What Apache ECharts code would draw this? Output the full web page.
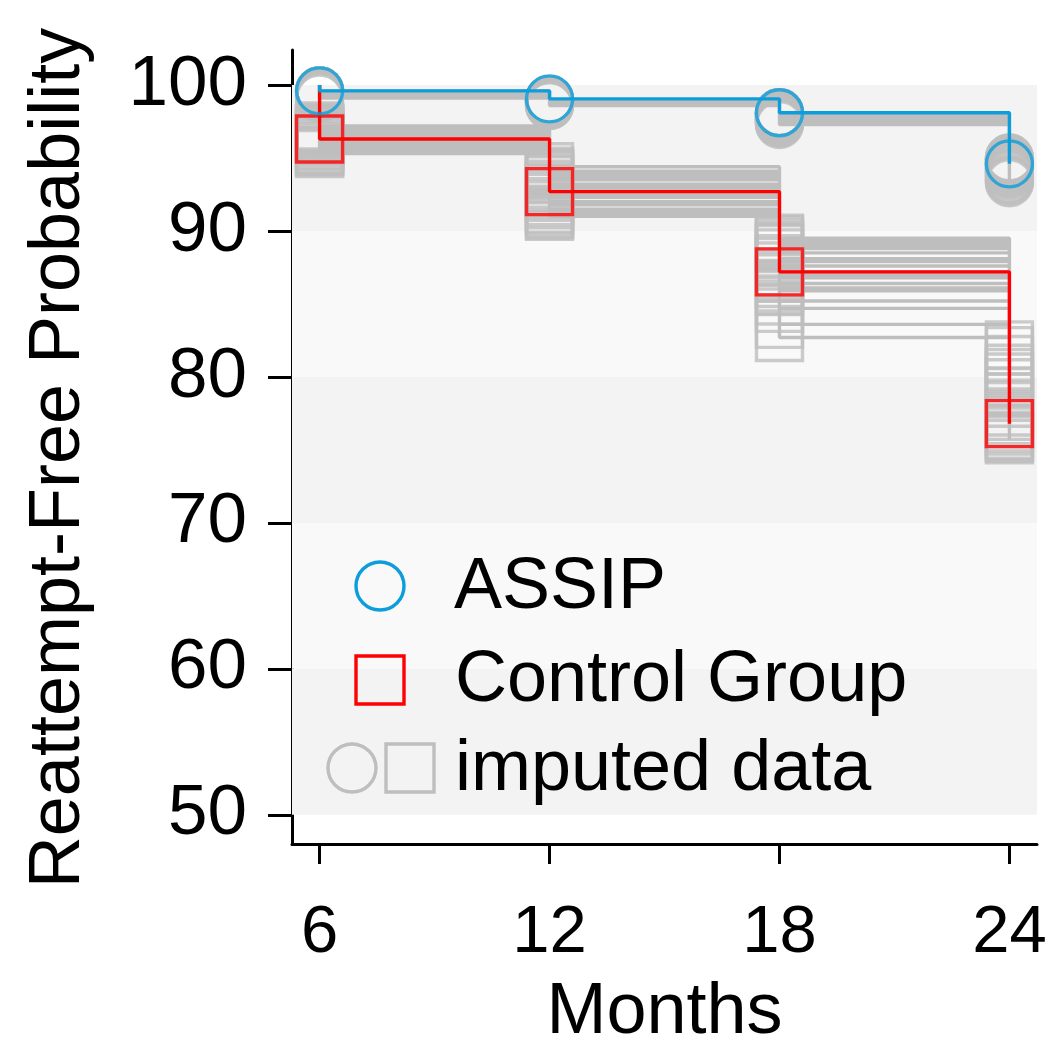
<!DOCTYPE html>
<html><head><meta charset="utf-8">
<script src="https://cdn.jsdelivr.net/npm/echarts@6/dist/echarts.min.js"></script>
<style>html,body{margin:0;padding:0;background:#fff}#c{width:1049px;height:1042px}</style>
</head><body><div id="c"></div>
<script>
// ---------- data ----------
const months = [6, 12, 18, 24];
const xTicks = [6, 12, 18, 24];
const yTicks = [50, 60, 70, 80, 90, 100];
const startValue = 100;
const assip = [99.6, 99.05, 98.1, 94.6];
const control = [96.3, 92.7, 87.2, 76.8];
// imputed datasets (values at 6, 12, 18, 24 months)
const assipImputed = [
  [99.6, 99.0, 98.1, 94.6], [99.6, 98.9, 97.9, 94.2], [99.5, 99.0, 98.0, 95.0], [99.6, 98.8, 97.6, 93.6],
  [99.4, 99.0, 98.1, 94.8], [99.6, 98.9, 97.8, 94.4], [99.3, 98.7, 97.4, 93.3], [99.6, 99.0, 98.0, 94.9],
  [99.5, 98.9, 97.7, 94.0], [99.6, 99.0, 98.1, 94.6], [99.2, 98.6, 97.3, 93.5], [99.6, 98.9, 97.9, 94.3],
  [99.5, 99.0, 98.0, 95.0], [99.4, 98.8, 97.5, 93.8], [99.6, 99.0, 98.1, 94.7], [99.1, 98.6, 97.4, 93.4],
  [99.6, 98.9, 97.8, 94.1], [99.5, 99.0, 98.0, 94.8], [99.6, 98.8, 97.6, 93.9], [99.3, 98.7, 97.5, 94.5]
];
const controlImputed = [
  [96.3, 92.7, 87.2, 76.8], [97.2, 94.4, 89.5, 81.2], [95.5, 91.2, 85.9, 75.9], [96.8, 93.8, 88.8, 80.0],
  [95.3, 91.0, 82.7, 75.7], [96.6, 93.0, 87.9, 78.2], [97.0, 94.1, 89.2, 82.2], [95.8, 91.8, 86.4, 77.0],
  [96.4, 92.9, 87.6, 79.0], [95.4, 91.5, 84.7, 76.0], [96.9, 93.5, 88.5, 80.6], [96.1, 92.3, 86.8, 77.6],
  [95.6, 91.4, 85.2, 76.3], [97.1, 94.0, 89.4, 81.8], [96.5, 93.2, 88.1, 78.6], [95.9, 92.0, 86.1, 76.5],
  [96.7, 93.6, 88.9, 79.6], [95.5, 91.1, 83.6, 75.8], [96.2, 92.5, 87.0, 77.3], [97.0, 93.9, 89.0, 80.3]
];
const bandsDark = [[50, 60], [70, 80], [90, 100]];
const bandsLight = [[60, 70], [80, 90]];

// ---------- styling ----------
const FONT = '"Liberation Sans", Arial, Helvetica, sans-serif';
const BLUE = '#0d9ddb';
const RED = '#ff0000';
const GREY = '#bebebe';
const SYM = 46;
const LW = 3.4;

function stepPath(vals) {
  const pts = [[months[0], startValue]];
  vals.forEach((v, i) => {
    pts.push([months[i], v]);
    if (i < vals.length - 1) pts.push([months[i + 1], v]);
  });
  return pts;
}
function joinPaths(list) {
  const out = [];
  list.forEach((vals, k) => {
    if (k > 0) out.push([null, null]);
    stepPath(vals).forEach(p => out.push(p));
  });
  return out;
}
function points(list) {
  const out = [];
  list.forEach(vals => vals.forEach((v, i) => out.push([months[i], v])));
  return out;
}
const hollow = (c) => ({ color: 'rgba(0,0,0,0)', borderColor: c, borderWidth: LW });

const chart = echarts.init(document.getElementById('c'), null, { renderer: 'canvas' });
chart.setOption({
  animation: false,
  backgroundColor: '#ffffff',
  grid: { left: 292, right: 12, top: 50, bottom: 198, containLabel: false, outerBoundsMode: 'none' },
  xAxis: {
    type: 'value', min: 5.28, max: 24.72,
    axisLine: { show: true, onZero: false, lineStyle: { color: '#000', width: 3 } },
    axisTick: { show: true, customValues: xTicks, length: 20, lineStyle: { color: '#000', width: 3 } },
    axisLabel: { customValues: xTicks, fontSize: 67, margin: 56, color: '#000', fontFamily: FONT },
    splitLine: { show: false },
    name: 'Months', nameLocation: 'middle', nameGap: 133,
    nameTextStyle: { fontSize: 72, color: '#000', fontFamily: FONT }
  },
  yAxis: {
    type: 'value', min: 48, max: 102.4,
    axisLine: { show: true, onZero: false, lineStyle: { color: '#000', width: 3 } },
    axisTick: { show: true, customValues: yTicks, length: 24, lineStyle: { color: '#000', width: 3 } },
    axisLabel: { customValues: yTicks, fontSize: 71, margin: 45, color: '#000', fontFamily: FONT },
    splitLine: { show: false },
    name: 'Reattempt-Free Probability', nameLocation: 'middle', nameGap: 197, nameRotate: 90,
    nameTextStyle: { fontSize: 72, color: '#000', fontFamily: FONT, padding: [0, 22, 0, 0] }
  },
  series: [
    {
      type: 'line', data: [], z: 0, silent: true,
      markArea: {
        silent: true,
        data: bandsDark.map(b => [{ yAxis: b[0], itemStyle: { color: '#f3f3f3' } }, { yAxis: b[1] }])
          .concat(bandsLight.map(b => [{ yAxis: b[0], itemStyle: { color: '#f9f9f9' } }, { yAxis: b[1] }]))
      }
    },
    { name: 'ASSIP imputed', type: 'line', data: joinPaths(assipImputed), connectNulls: false, symbol: 'none',
      lineStyle: { color: GREY, width: LW }, z: 2, silent: true },
    { name: 'Control imputed', type: 'line', data: joinPaths(controlImputed), connectNulls: false, symbol: 'none',
      lineStyle: { color: GREY, width: LW }, z: 2, silent: true },
    { type: 'scatter', data: points(assipImputed), symbol: 'circle', symbolSize: SYM, itemStyle: hollow(GREY), z: 3, silent: true },
    { type: 'scatter', data: points(controlImputed), symbol: 'rect', symbolSize: SYM, itemStyle: hollow(GREY), z: 3, silent: true },
    { name: 'Control Group', type: 'line', data: stepPath(control), symbol: 'none', lineStyle: { color: RED, width: LW }, z: 5, silent: true },
    { name: 'ASSIP', type: 'line', data: stepPath(assip), symbol: 'none', lineStyle: { color: BLUE, width: LW }, z: 5, silent: true },
    { type: 'scatter', data: control.map((v, i) => [months[i], v]), symbol: 'rect', symbolSize: SYM, itemStyle: hollow(RED), z: 6, silent: true },
    { type: 'scatter', data: assip.map((v, i) => [months[i], v]), symbol: 'circle', symbolSize: SYM, itemStyle: hollow(BLUE), z: 6, silent: true }
  ],
  graphic: [
    { type: 'circle', shape: { cx: 380, cy: 586, r: 24 }, style: { fill: 'none', stroke: BLUE, lineWidth: LW }, z: 10 },
    { type: 'text', x: 454, y: 588, style: { text: 'ASSIP', font: '72px ' + FONT, fill: '#000', verticalAlign: 'middle' }, z: 10 },
    { type: 'rect', shape: { x: 356, y: 656, width: 48, height: 48 }, style: { fill: 'none', stroke: RED, lineWidth: LW }, z: 10 },
    { type: 'text', x: 455, y: 681, style: { text: 'Control Group', font: '72px ' + FONT, fill: '#000', verticalAlign: 'middle' }, z: 10 },
    { type: 'circle', shape: { cx: 352, cy: 768, r: 24 }, style: { fill: 'none', stroke: GREY, lineWidth: LW }, z: 10 },
    { type: 'rect', shape: { x: 386, y: 744, width: 48, height: 48 }, style: { fill: 'none', stroke: GREY, lineWidth: LW }, z: 10 },
    { type: 'text', x: 455, y: 770, style: { text: 'imputed data', font: '72px ' + FONT, fill: '#000', verticalAlign: 'middle' }, z: 10 }
  ]
});
</script></body></html>
